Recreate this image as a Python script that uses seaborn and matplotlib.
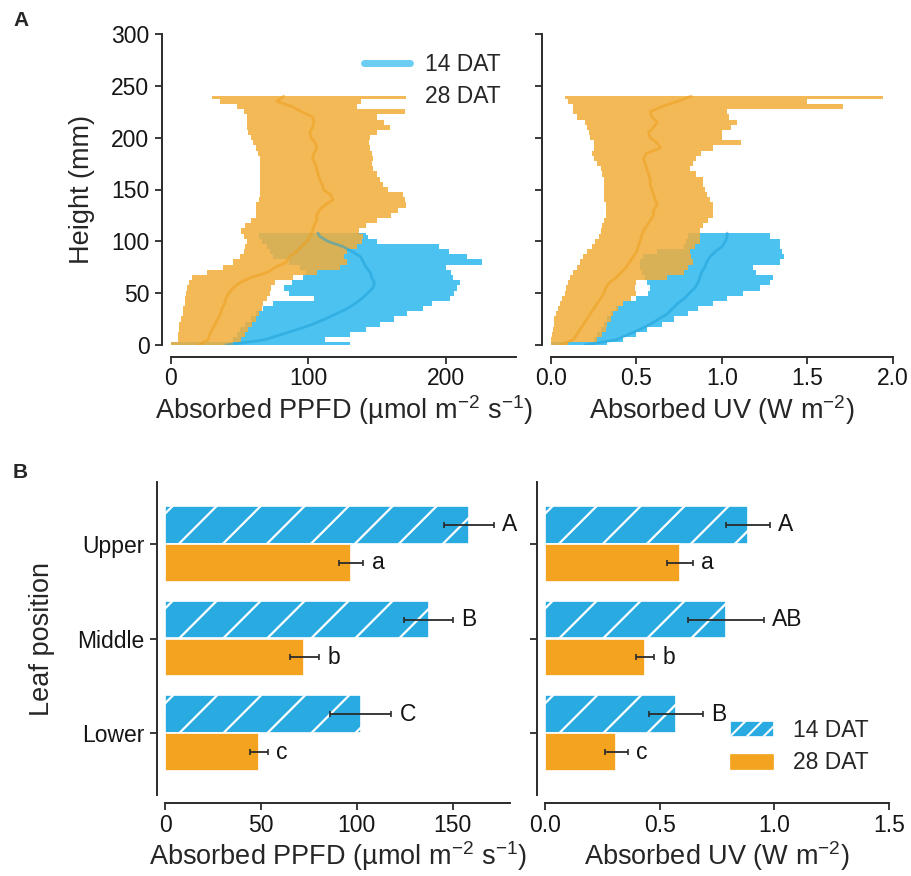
import numpy as np
import pandas as pd
import matplotlib
matplotlib.use("Agg")
import matplotlib.pyplot as plt
import matplotlib.transforms as mtransforms
from matplotlib.lines import Line2D
from matplotlib.patches import Patch
import seaborn as sns

# ---------------- data ----------------
# Panel A: vertical profiles (height in mm), band = mean +/- SD
height_28 = [0, 5, 10, 15, 20, 25, 30, 35, 40, 45, 50, 55, 60, 65, 70, 75, 80, 85, 90, 95,
             100, 105, 110, 115, 120, 125, 130, 135, 140, 145, 150, 155, 160, 165, 170, 175,
             180, 185, 190, 195, 200, 205, 210, 215, 220, 225, 230, 235, 240]
ppfd28_lo = [0, 5, 5, 6, 6, 7, 9, 9, 10, 10, 11, 12, 13, 15, 26, 38, 45, 50, 53, 54,
             55, 53, 51, 54, 58, 62, 62, 62, 64, 65, 65, 65, 65, 65, 65, 65,
             65, 63, 62, 60, 58, 56, 55, 55, 55, 53, 48, 36, 30]
ppfd28_mean = [20, 27, 28, 30, 32, 34, 36, 37, 39, 40, 42, 45, 50, 58, 70, 76, 84, 86, 91, 95,
               99, 101, 103, 104, 106, 106, 108, 112, 118, 116, 111, 110, 108, 107, 106, 105,
               103, 104, 106, 105, 102, 101, 103, 104, 103, 95, 88, 77, 82]
ppfd28_hi = [45, 51, 54, 56, 59, 62, 64, 66, 67, 70, 72, 73, 76, 89, 106, 123, 128, 126, 128, 135,
             139, 140, 137, 142, 150, 160, 165, 171, 170, 169, 158, 154, 152, 150, 147, 146,
             147, 146, 145, 144, 145, 150, 159, 155, 150, 170, 135, 138, 171]

height_14 = [0, 5, 10, 15, 20, 25, 30, 35, 40, 45, 50, 55, 60, 65, 70, 75, 80, 85, 90, 95,
             100, 105, 108]
ppfd14_lo = [0, 45, 48, 50, 54, 58, 62, 67, 74, 104, 86, 82, 88, 96, 98, 94, 86, 74, 72, 70,
             66, 64, 64]
ppfd14_mean = [40, 68, 80, 92, 103, 112, 120, 128, 134, 139, 143, 147, 148, 146, 145, 142, 140, 138, 132, 125,
               114, 108, 107]
ppfd14_hi = [130, 112, 130, 142, 152, 162, 172, 183, 190, 203, 206, 208, 210, 205, 204, 200, 226, 215, 202, 195,
             150, 143, 142]

uv28_lo = [0.0, 0.0, 0.005, 0.01, 0.015, 0.02, 0.03, 0.04, 0.05, 0.065, 0.08, 0.09, 0.10, 0.11, 0.13, 0.15,
           0.17, 0.19, 0.21, 0.24, 0.26, 0.28, 0.29, 0.30, 0.31, 0.32, 0.32, 0.32, 0.31, 0.31, 0.31, 0.31,
           0.31, 0.30, 0.29, 0.27, 0.25, 0.24, 0.25, 0.25, 0.23, 0.22, 0.21, 0.20, 0.15, 0.13, 0.13, 0.10, 0.08]
uv28_mean = [0.05, 0.13, 0.15, 0.17, 0.19, 0.21, 0.23, 0.25, 0.27, 0.29, 0.31, 0.32, 0.34, 0.38, 0.41, 0.44,
             0.46, 0.48, 0.50, 0.51, 0.52, 0.53, 0.54, 0.56, 0.58, 0.60, 0.60, 0.62, 0.61, 0.60, 0.59, 0.58,
             0.58, 0.57, 0.56, 0.55, 0.54, 0.56, 0.64, 0.62, 0.58, 0.57, 0.60, 0.62, 0.59, 0.58, 0.65, 0.74, 0.82]
uv28_hi = [0.10, 0.27, 0.30, 0.32, 0.33, 0.35, 0.36, 0.39, 0.42, 0.47, 0.50, 0.49, 0.50, 0.68, 0.78, 0.80,
           0.83, 0.82, 0.81, 0.84, 0.87, 0.87, 0.87, 0.89, 0.92, 0.95, 0.95, 0.95, 0.93, 0.91, 0.90, 0.89,
           0.89, 0.85, 0.81, 0.83, 0.85, 0.88, 0.95, 1.11, 1.00, 1.00, 1.05, 1.09, 1.04, 1.03, 1.71, 1.50, 1.94]

uv14_lo = [0.0, 0.25, 0.27, 0.29, 0.31, 0.33, 0.35, 0.38, 0.42, 0.50, 0.57, 0.58, 0.56, 0.55, 0.53, 0.52,
           0.52, 0.54, 0.62, 0.78, 0.79, 0.80, 0.80]
uv14_mean = [0.20, 0.38, 0.45, 0.52, 0.58, 0.63, 0.68, 0.71, 0.74, 0.78, 0.81, 0.84, 0.86, 0.87, 0.88, 0.90,
             0.91, 0.93, 0.96, 1.00, 1.02, 1.03, 1.03]
uv14_hi = [0.33, 0.42, 0.50, 0.56, 0.65, 0.72, 0.80, 0.86, 0.95, 1.03, 1.12, 1.22, 1.28, 1.30, 1.20, 1.18,
           1.34, 1.36, 1.35, 1.34, 1.34, 1.28, 1.28]

# Panel B: mean absorbed light per leaf position
positions = ["Upper", "Middle", "Lower"]
stages = ["14 DAT", "28 DAT"]
ppfd_14 = [158.4, 137.5, 102.0]
ppfd_14_err = [13.0, 12.8, 16.0]
ppfd_28 = [97.2, 72.7, 49.1]
ppfd_28_err = [6.3, 7.6, 4.5]
uv_14 = [0.885, 0.789, 0.571]
uv_14_err = [0.094, 0.166, 0.116]
uv_28 = [0.589, 0.436, 0.310]
uv_28_err = [0.057, 0.039, 0.050]
letters_ppfd_14 = ["A", "B", "C"]
letters_ppfd_28 = ["a", "b", "c"]
letters_uv_14 = ["A", "AB", "B"]
letters_uv_28 = ["a", "b", "c"]

# ---------------- style ----------------
sns.set_theme(style="ticks")
plt.rcParams["font.family"] = ["Liberation Sans", "DejaVu Sans"]
plt.rcParams["mathtext.fontset"] = "custom"
plt.rcParams["mathtext.rm"] = "Liberation Sans"
plt.rcParams["mathtext.it"] = "Liberation Sans:italic"
plt.rcParams["mathtext.bf"] = "Liberation Sans:bold"
plt.rcParams["hatch.linewidth"] = 1.5

INK = "#2b2b2b"
BLUE_BAR = "#29aae1"
ORANGE_BAR = "#f4a321"
BLUE_BAND = "#3bbdee"
ORANGE_BAND = "#f2ad3a"
BLUE_LINE = "#1b9fd8"
ORANGE_LINE = "#eea01c"
TICK_FS = 16.5
LABEL_FS = 19.5

W, H = 912, 876
fig = plt.figure(figsize=(W / 100, H / 100), dpi=100)


def rect(l, t, r, b):
    return [l / W, 1 - b / H, (r - l) / W, (b - t) / H]


def style_axis(ax, off_left, off_bottom):
    sns.despine(ax=ax, offset={"left": off_left, "bottom": off_bottom})
    for s in ("left", "bottom"):
        ax.spines[s].set_color(INK)
        ax.spines[s].set_linewidth(1.4)
    ax.tick_params(axis="both", length=5, width=1.3, color=INK, labelsize=TICK_FS,
                   labelcolor="#151515", pad=4)
    ax.set_facecolor("none")


ax_a1 = fig.add_axes(rect(171, 34, 516, 345))
ax_a2 = fig.add_axes(rect(551, 34, 893, 345))
ax_b1 = fig.add_axes(rect(165, 482, 510, 795))
ax_b2 = fig.add_axes(rect(545, 482, 889, 795))


# ---------------- panel A ----------------
def profile(ax, h14, lo14, m14, hi14, h28, lo28, m28, hi28):
    ax.fill_betweenx(h14, lo14, hi14, step="mid", color=BLUE_BAND, alpha=0.92, lw=0)
    ax.fill_betweenx(h28, lo28, hi28, step="mid", color=ORANGE_BAND, alpha=0.85, lw=0)
    sns.lineplot(x=m14, y=h14, sort=False, estimator=None, ax=ax, color=BLUE_LINE,
                 linewidth=2.0, alpha=0.5)
    sns.lineplot(x=m28, y=h28, sort=False, estimator=None, ax=ax, color=ORANGE_LINE,
                 linewidth=2.0, alpha=0.55)
    ax.set_ylim(0, 300)
    ax.set_yticks(range(0, 301, 50))


profile(ax_a1, height_14, ppfd14_lo, ppfd14_mean, ppfd14_hi,
        height_28, ppfd28_lo, ppfd28_mean, ppfd28_hi)
ax_a1.set_xlim(0, 251)
ax_a1.set_xticks([0, 100, 200])
ax_a1.set_ylabel("Height (mm)", fontsize=LABEL_FS, labelpad=12)
ax_a1.set_xlabel("Absorbed PPFD (µmol m$^{-2}$ s$^{-1}$)", fontsize=LABEL_FS, labelpad=2)
style_axis(ax_a1, 6.5, 8.6)
ax_a1.tick_params(axis="x", pad=2.5)

profile(ax_a2, height_14, uv14_lo, uv14_mean, uv14_hi,
        height_28, uv28_lo, uv28_mean, uv28_hi)
ax_a2.set_xlim(0, 2.0)
ax_a2.set_xticks([0, 0.5, 1.0, 1.5, 2.0])
ax_a2.set_xticklabels(["0.0", "0.5", "1.0", "1.5", "2.0"])
ax_a2.set_yticklabels([])
ax_a2.set_ylabel("")
ax_a2.set_xlabel("Absorbed UV (W m$^{-2}$)", fontsize=LABEL_FS, labelpad=2)
style_axis(ax_a2, 6.5, 8.6)
ax_a2.tick_params(axis="x", pad=2.5)

leg_a = ax_a1.legend(
    handles=[Line2D([], [], color=BLUE_BAND, lw=5, alpha=0.75),
             Line2D([], [], color=ORANGE_BAND, lw=5, alpha=0.0)],
    labels=stages, frameon=False, fontsize=TICK_FS, loc="upper left",
    bbox_to_anchor=(0.50, 1.005), handlelength=2.0, handletextpad=0.65, labelspacing=0.38)


# ---------------- panel B ----------------
def bars(ax, v14, e14, v28, e28, l14, l28, xmax):
    df = pd.DataFrame({
        "position": positions * 2,
        "stage": [stages[0]] * 3 + [stages[1]] * 3,
        "value": list(v14) + list(v28),
    })
    sns.barplot(data=df, x="value", y="position", hue="stage", order=positions,
                hue_order=stages, orient="h", palette=[BLUE_BAR, ORANGE_BAR],
                saturation=1, width=0.8, edgecolor="white", linewidth=1.2,
                errorbar=None, legend=False, ax=ax)
    ax.set_xlim(0, xmax)
    ax.set_ylim(2.65, -0.65)
    ax.set_ylabel("")
    vals = {0: v14, 1: v28}
    errs = {0: e14, 1: e28}
    labs = {0: l14, 1: l28}
    to_disp = ax.transData
    for p in list(ax.patches):
        yc = p.get_y() + p.get_height() / 2
        cat = int(round(yc))
        hue = 0 if yc < cat else 1
        v, e = vals[hue][cat], errs[hue][cat]
        ax.errorbar(v, yc, xerr=e, fmt="none", ecolor=INK, elinewidth=1.3,
                    capsize=2.5, capthick=1.2, zorder=4)
        ax.annotate(labs[hue][cat], xy=(v + e, yc), xytext=(6, 0),
                    textcoords="offset points", ha="left", va="center",
                    fontsize=TICK_FS, color="#151515")
        if hue == 0:
            # sparse diagonal white hatching on the 14 DAT bars
            (x0, y0), (x1, y1) = to_disp.transform(
                [(p.get_x(), p.get_y() + p.get_height()), (p.get_x() + p.get_width(), p.get_y())])
            hgt = y1 - y0
            c = x0 - hgt + 8
            while c < x1:
                ln = Line2D([c, c + hgt], [y0, y1], color="white", lw=1.6,
                            transform=mtransforms.IdentityTransform(), zorder=3)
                ax.add_line(ln)
                ln.set_clip_path(p)
                c += 44


bars(ax_b1, ppfd_14, ppfd_14_err, ppfd_28, ppfd_28_err,
     letters_ppfd_14, letters_ppfd_28, 180)
ax_b1.set_xticks([0, 50, 100, 150])
ax_b1.set_ylabel("Leaf position", fontsize=LABEL_FS, labelpad=16)
ax_b1.set_xlabel("Absorbed PPFD (µmol m$^{-2}$ s$^{-1}$)", fontsize=LABEL_FS, labelpad=1.5)
style_axis(ax_b1, 5.8, 5.8)
ax_b1.tick_params(axis="x", pad=3)

bars(ax_b2, uv_14, uv_14_err, uv_28, uv_28_err, letters_uv_14, letters_uv_28, 1.5)
ax_b2.set_xticks([0, 0.5, 1.0, 1.5])
ax_b2.set_xticklabels(["0.0", "0.5", "1.0", "1.5"])
ax_b2.set_yticklabels([])
ax_b2.set_xlabel("Absorbed UV (W m$^{-2}$)", fontsize=LABEL_FS, labelpad=1.5)
style_axis(ax_b2, 5.8, 5.8)
ax_b2.tick_params(axis="x", pad=3)

leg_b = ax_b2.legend(
    handles=[Patch(facecolor=BLUE_BAR, edgecolor="white", hatch="//", linewidth=0.5),
             Patch(facecolor=ORANGE_BAR, edgecolor=ORANGE_BAR, linewidth=0.5)],
    labels=stages, frameon=False, fontsize=TICK_FS, loc="lower right",
    bbox_to_anchor=(1.0, 0.0), handlelength=1.9, handleheight=0.6,
    handletextpad=0.85, labelspacing=0.42)

# panel letters
fig.text(13 / W, 1 - 20 / H, "A", fontsize=15, fontweight="bold", va="center", ha="left")
fig.text(13 / W, 1 - 472 / H, "B", fontsize=15, fontweight="bold", va="center", ha="left")

fig.savefig("out.png", dpi=100)
